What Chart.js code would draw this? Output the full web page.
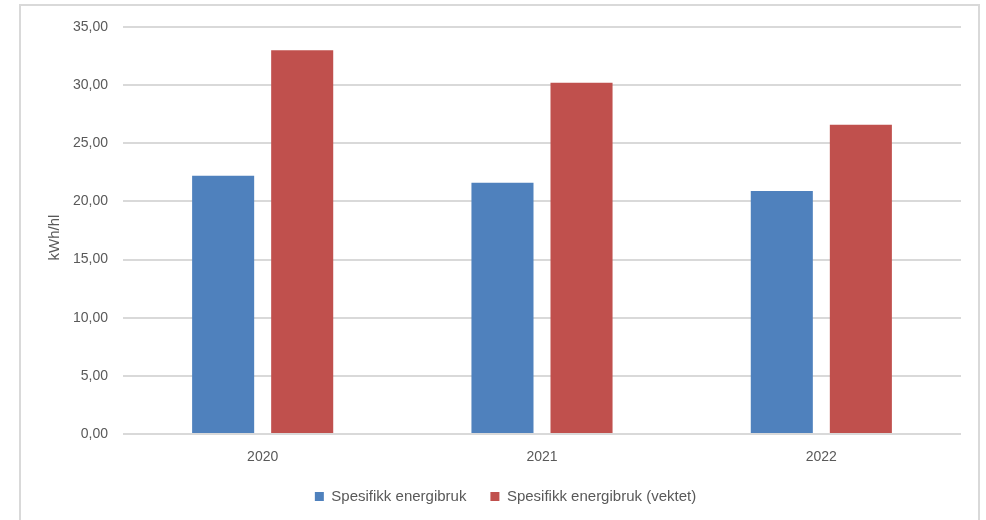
<!DOCTYPE html>
<html>
<head>
<meta charset="utf-8">
<script src="https://cdn.jsdelivr.net/npm/chart.js@4/dist/chart.umd.min.js"></script>
<style>
  html, body { margin: 0; padding: 0; background: #fff; overflow: hidden; }
  #frame { position: absolute; left: 19px; top: 4px; width: 961px; height: 560px; border: 2px solid #d9d9d9; box-sizing: border-box; }
  #wrap { position: absolute; left: 0; top: 0; width: 986px; height: 520px; }
</style>
</head>
<body>
<div id="frame"></div>
<div id="wrap"><canvas id="c" width="986" height="520"></canvas></div>
<script>
const categories = ['2020', '2021', '2022'];
const seriesNames = ['Spesifikk energibruk', 'Spesifikk energibruk (vektet)'];
const spesifikk = [22.2, 21.6, 20.9];
const spesifikkVektet = [33.0, 30.2, 26.6];
const yTitle = 'kWh/hl';

const tickColor = '#595959';
const fontFamily = '"Liberation Sans", Arial, sans-serif';

// y-axis title drawn slightly below the plot centre, as in the reference
const yTitlePlugin = {
  id: 'yTitlePlugin',
  afterLayout(chart) {
    // nudge legend a little to the right
    chart.legend.left += 6;
    chart.legend.right += 6;
  },
  afterDraw(chart) {
    const ctx = chart.ctx;
    const area = chart.chartArea;
    ctx.save();
    ctx.translate(55, (area.top + area.bottom) / 2 + 7);
    ctx.rotate(-Math.PI / 2);
    ctx.fillStyle = tickColor;
    ctx.font = '15px ' + fontFamily;
    ctx.textAlign = 'center';
    ctx.textBaseline = 'middle';
    ctx.fillText(yTitle, 0, 0);
    ctx.restore();
  }
};

new Chart(document.getElementById('c'), {
  type: 'bar',
  data: {
    labels: categories,
    datasets: [
      { label: seriesNames[0], data: spesifikk, backgroundColor: '#4F81BD', borderWidth: 0 },
      { label: seriesNames[1], data: spesifikkVektet, backgroundColor: '#C0504D', borderWidth: 0 }
    ]
  },
  plugins: [yTitlePlugin],
  options: {
    responsive: false,
    animation: false,
    devicePixelRatio: 1,
    layout: { padding: { left: 38, right: 25, top: 27, bottom: 6 } },
    datasets: { bar: { categoryPercentage: 0.566, barPercentage: 0.785 } },
    plugins: {
      legend: {
        position: 'bottom',
        labels: {
          boxWidth: 9, boxHeight: 9, padding: 24,
          color: tickColor,
          font: { family: fontFamily, size: 15 }
        }
      },
      tooltip: { enabled: false }
    },
    scales: {
      x: {
        afterFit: (s) => { s.height = 31; },
        grid: { display: false, drawTicks: false },
        border: { display: false },
        ticks: { color: tickColor, font: { family: fontFamily, size: 14 }, padding: 15 }
      },
      y: {
        min: 0, max: 35,
        afterFit: (s) => { s.width = 85; },
        grid: { color: '#d9d9d9', lineWidth: 2, drawTicks: false },
        border: { display: false },
        ticks: {
          stepSize: 5, padding: 15, color: tickColor,
          font: { family: fontFamily, size: 14 },
          callback: (v) => v.toFixed(2).replace('.', ',')
        },
        title: { display: false }
      }
    }
  }
});
</script>
</body>
</html>
